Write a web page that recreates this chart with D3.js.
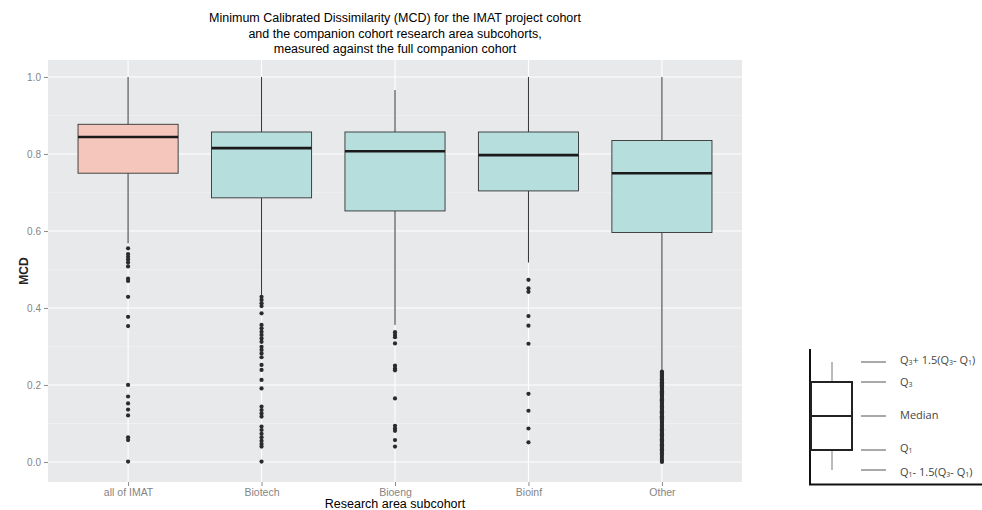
<!DOCTYPE html>
<html><head><meta charset="utf-8">
<script src="https://cdn.jsdelivr.net/npm/d3@7"></script>
<style>body{margin:0;background:#fff}svg{display:block}</style>
</head><body><svg id="c" width="982" height="510"></svg>
<script>
const categories = ["all of IMAT","Biotech","Bioeng","Bioinf","Other"];
const whiskerHigh = [1.0, 1.0, 0.966, 1.0, 1.0];
const q3 = [0.877, 0.857, 0.857, 0.857, 0.835];
const medians = [0.844, 0.815, 0.807, 0.797, 0.750];
const q1 = [0.750, 0.686, 0.652, 0.704, 0.596];
const whiskerLow = [0.568, 0.434, 0.356, 0.518, 0.239];
const outliersIMAT = [0.555,0.540,0.533,0.526,0.518,0.508,0.476,0.470,0.429,0.377,0.353,0.200,0.170,0.152,0.136,0.121,0.064,0.057,0.001];
const outliersBiotech = [0.429,0.421,0.412,0.405,0.386,0.356,0.347,0.338,0.330,0.321,0.312,0.299,0.291,0.282,0.272,0.252,0.239,0.213,0.191,0.144,0.135,0.126,0.118,0.092,0.083,0.073,0.064,0.055,0.047,0.040,0.001];
const outliersBioeng = [0.337,0.330,0.324,0.308,0.250,0.243,0.238,0.165,0.094,0.087,0.081,0.057,0.040];
const outliersBioinf = [0.473,0.451,0.442,0.379,0.354,0.307,0.177,0.133,0.087,0.051];
const outliersOther = [0.235,0.232,0.229,0.226,0.224,0.221,0.218,0.215,0.213,0.210,0.207,0.204,0.201,0.199,0.196,0.193,0.190,0.187,0.184,0.181,0.178,0.175,0.172,0.169,0.166,0.163,0.160,0.157,0.154,0.151,0.148,0.145,0.141,0.138,0.135,0.132,0.129,0.126,0.122,0.119,0.116,0.113,0.110,0.107,0.104,0.101,0.097,0.094,0.091,0.088,0.085,0.082,0.078,0.075,0.072,0.069,0.066,0.062,0.059,0.056,0.053,0.049,0.046,0.043,0.040,0.036,0.033,0.030,0.026,0.022,0.018,0.013,0.008,0.003,0.000];
const outliers = [outliersIMAT, outliersBiotech, outliersBioeng, outliersBioinf, outliersOther];
const fills = ["#F5C6BC","#B5DEDD","#B5DEDD","#B5DEDD","#B5DEDD"];
const yTicks = [0.0,0.2,0.4,0.6,0.8,1.0];
const yMinor = [0.1,0.3,0.5,0.7,0.9];
const titleLines = ["Minimum Calibrated Dissimilarity (MCD) for the IMAT project cohort","and the companion cohort research area subcohorts,","measured against the full companion cohort"];
const xTitle = "Research area subcohort";
const yTitle = "MCD";
const legendLevels = ["1.5","1","0","-1","-1.5"];

const svg = d3.select("#c");
const P = {l:48, r:742, t:60, b:482};
const x = d3.scalePoint().domain(categories).range([P.l, P.r]).padding(0.6);
const y = d3.scaleLinear().domain([-0.052, 1.044]).range([P.b, P.t]);
const bw = x.step()*0.75;
const font = "'Liberation Sans',Arial,sans-serif";

svg.append("rect").attr("x",P.l).attr("y",P.t).attr("width",P.r-P.l).attr("height",P.b-P.t).attr("fill","#E8E9EB");
const g = svg.append("g");
g.selectAll(".minor").data(yMinor).join("line").attr("x1",P.l).attr("x2",P.r).attr("y1",d=>y(d)).attr("y2",d=>y(d)).attr("stroke","#F2F3F4").attr("stroke-width",0.6);
g.selectAll(".major").data(yTicks).join("line").attr("x1",P.l).attr("x2",P.r).attr("y1",d=>y(d)).attr("y2",d=>y(d)).attr("stroke","#FFFFFF").attr("stroke-width",1.1);
g.selectAll(".vmajor").data(categories).join("line").attr("x1",d=>x(d)).attr("x2",d=>x(d)).attr("y1",P.t).attr("y2",P.b).attr("stroke","#FFFFFF").attr("stroke-width",1.1);

categories.forEach((c,i)=>{
  const cx = x(c);
  g.append("line").attr("x1",cx).attr("x2",cx).attr("y1",y(whiskerHigh[i])).attr("y2",y(q3[i])).attr("stroke","#333").attr("stroke-width",1);
  g.append("line").attr("x1",cx).attr("x2",cx).attr("y1",y(q1[i])).attr("y2",y(whiskerLow[i])).attr("stroke","#333").attr("stroke-width",1);
  g.append("rect").attr("x",cx-bw/2).attr("y",y(q3[i])).attr("width",bw).attr("height",y(q1[i])-y(q3[i])).attr("fill",fills[i]).attr("stroke","#333").attr("stroke-width",0.9);
  g.append("line").attr("x1",cx-bw/2).attr("x2",cx+bw/2).attr("y1",y(medians[i])).attr("y2",y(medians[i])).attr("stroke","#1a1a1a").attr("stroke-width",2.6);
  g.selectAll(null).data(outliers[i]).join("circle").attr("cx",cx).attr("cy",d=>y(d)).attr("r",2.1).attr("fill","#2b2b2b");
});

// axes
const yAxis = svg.append("g").attr("transform",`translate(${P.l},0)`).call(d3.axisLeft(y).tickValues(yTicks).tickFormat(d3.format(".1f")).tickSize(4).tickPadding(3));
yAxis.select(".domain").remove();
yAxis.selectAll("line").attr("stroke","#8a8a8a");
yAxis.selectAll("text").attr("fill","#858585").style("font-family",font).style("font-size","10px");
const xAxis = svg.append("g").attr("transform",`translate(0,${P.b})`).call(d3.axisBottom(x).tickSize(4).tickPadding(3));
xAxis.select(".domain").remove();
xAxis.selectAll("line").attr("stroke","#8a8a8a");
xAxis.selectAll("text").attr("fill","#858585").style("font-family",font).style("font-size","10.5px");

svg.append("text").attr("x",(P.l+P.r)/2).attr("y",508).attr("text-anchor","middle").style("font-family",font).style("font-size","12.5px").attr("fill","#000").text(xTitle);
svg.append("text").attr("transform",`translate(24,${(P.t+P.b)/2}) rotate(-90)`).attr("text-anchor","middle").attr("dominant-baseline","central").style("font-family",font).style("font-size","12px").style("font-weight","bold").attr("fill","#222").text(yTitle);
svg.selectAll(".title").data(titleLines).join("text").attr("x",(P.l+P.r)/2).attr("y",(d,i)=>22+i*15.5).attr("text-anchor","middle").style("font-family",font).style("font-size","12.5px").attr("fill","#000").text(d=>d);

// schematic legend
const L = svg.append("g");
const lyPos = {"1.5":362, "1":382, "0":416, "-1":450, "-1.5":470};
L.append("line").attr("x1",810).attr("x2",810).attr("y1",349).attr("y2",485).attr("stroke","#111").attr("stroke-width",2);
L.append("line").attr("x1",809).attr("x2",982).attr("y1",484.5).attr("y2",484.5).attr("stroke","#111").attr("stroke-width",2);
L.append("line").attr("x1",832).attr("x2",832).attr("y1",lyPos["1.5"]).attr("y2",lyPos["1"]).attr("stroke","#777").attr("stroke-width",1);
L.append("line").attr("x1",832).attr("x2",832).attr("y1",lyPos["-1"]).attr("y2",lyPos["-1.5"]).attr("stroke","#777").attr("stroke-width",1);
L.append("rect").attr("x",811).attr("y",lyPos["1"]).attr("width",41).attr("height",lyPos["-1"]-lyPos["1"]).attr("fill","#fff").attr("stroke","#222").attr("stroke-width",2);
L.append("line").attr("x1",811).attr("x2",852).attr("y1",lyPos["0"]).attr("y2",lyPos["0"]).attr("stroke","#222").attr("stroke-width",2);
L.selectAll(".tick").data(legendLevels).join("line").attr("x1",861).attr("x2",886).attr("y1",d=>lyPos[d]).attr("y2",d=>lyPos[d]).attr("stroke","#555").attr("stroke-width",1);
const lf = "'Open Sans','Liberation Sans',sans-serif";
function lt(yv, parts){
  const t = L.append("text").attr("x",900).attr("y",yv).attr("dominant-baseline","central").style("font-family",lf).style("font-size","11px").attr("fill","#444");
  parts.forEach(p=>{
    if (p.sub) t.append("tspan").attr("dy",3).style("font-size","7px").text(p.sub);
    else t.append("tspan").attr("dy",p.after? -3:0).text(p.t);
  });
}
lt(359,[{t:"Q"},{sub:"3"},{t:"+ 1.5(Q",after:1},{sub:"3"},{t:"- Q",after:1},{sub:"1"},{t:")",after:1}]);
lt(381,[{t:"Q"},{sub:"3"}]);
lt(414,[{t:"Median"}]);
lt(447,[{t:"Q"},{sub:"1"}]);
lt(471,[{t:"Q"},{sub:"1"},{t:"- 1.5(Q",after:1},{sub:"3"},{t:"- Q",after:1},{sub:"1"},{t:")",after:1}]);
</script></body></html>
